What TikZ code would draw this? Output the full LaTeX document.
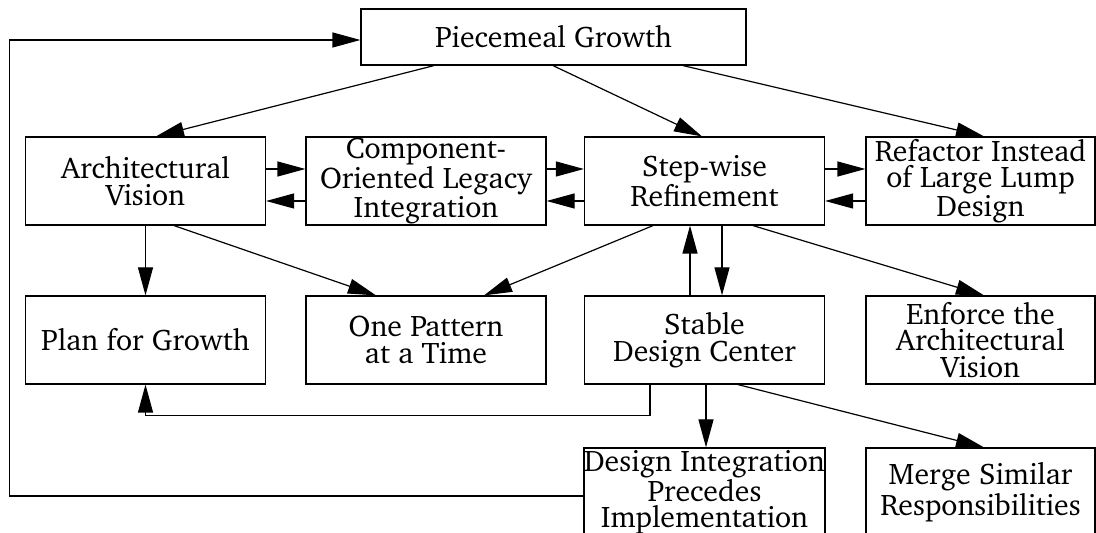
\documentclass[tikz,border=0pt]{standalone}
\usepackage[T1]{fontenc}
\usepackage{charter}
\usetikzlibrary{arrows.meta,calc}
\begin{document}
\begin{tikzpicture}[x=0.5pt,y=-0.5pt,
  box/.style={draw,line width=0.6pt,rectangle,minimum width=120pt,minimum height=44pt,inner sep=0pt,align=center,
     font=\fontsize{14.9pt}{13.2pt}\selectfont},
  narrowbox/.style={box,minimum width=114.5pt},
  arr/.style={line width=0.6pt,-{Triangle[length=14pt,width=7.5pt]}},
  ln/.style={line width=0.6pt}]
\useasboundingbox (0,0) rectangle (1096,533);
\node[box,minimum width=192.5pt,minimum height=28pt] (pg) at (553.5,37) {Piecemeal Growth};
\node[box] (av) at (145.5,181) {Architectural\\Vision};
\node[box] (co) at (426,181) {Component-\\Oriented Legacy\\Integration};
\node[box] (sw) at (704.5,181) {Step-wise\\Refinement};
\node[narrowbox] (rf) at (980.5,181) {Refactor Instead\\of Large Lump\\Design};
\node[box] (pf) at (145.5,340) {Plan for Growth};
\node[box] (op) at (426,340) {One Pattern\\at a Time};
\node[box] (sd) at (704.5,340) {Stable\\Design Center};
\node[narrowbox] (en) at (980.5,340) {Enforce the\\Architectural\\Vision};
\node[box] (di) at (704.5,492) {Design Integration\\Precedes\\Implementation};
\node[narrowbox] (ms) at (980.5,492) {Merge Similar\\Responsibilities};
\coordinate (lp) at (9.5,496);
% from Piecemeal Growth
\draw[arr] ($(pg.south)+(-119.5,0)$) -- ($(av.north)+(10.5,0)$);
\draw[arr] ($(pg.south)+(-0.5,0)$) -- ($(sw.north)+(-2.5,0)$);
\draw[arr] ($(pg.south)+(129.5,0)$) -- ($(rf.north)+(3.5,0)$);
% horizontal pairs
\draw[arr] ($(av.east)+(0,-12)$) -- ($(co.west)+(0,-12)$);
\draw[arr] ($(co.west)+(0,20)$) -- ($(av.east)+(0,20)$);
\draw[arr] ($(co.east)+(0,-12)$) -- ($(sw.west)+(0,-12)$);
\draw[arr] ($(sw.west)+(0,20)$) -- ($(co.east)+(0,20)$);
\draw[arr] ($(sw.east)+(0,-12)$) -- ($(rf.west)+(0,-12)$);
\draw[arr] ($(rf.west)+(0,20)$) -- ($(sw.east)+(0,20)$);
% row 2 to row 3
\draw[arr] (av.south) -- (pf.north);
\draw[arr] ($(av.south)+(28.5,0)$) -- ($(op.north)+(-50,0)$);
\draw[arr] ($(sw.south)+(-51.5,0)$) -- ($(op.north)+(58,0)$);
\draw[arr] ($(sd.north)+(-14.5,0)$) -- ($(sw.south)+(-14.5,0)$);
\draw[arr] ($(sw.south)+(17.5,0)$) -- ($(sd.north)+(17.5,0)$);
\draw[arr] ($(sw.south)+(48.5,0)$) -- ($(en.north)+(3.5,0)$);
% from Stable Design Center
\draw[arr] ($(sd.south)+(-54.5,0)$) -- ++(0,31) -| (pf.south);
\draw[arr] ($(sd.south)+(1.5,0)$) -- ($(di.north)+(1.5,0)$);
\draw[arr] ($(sd.south)+(33.5,0)$) -- ($(ms.north)+(3.5,0)$);
% feedback loop
\draw[arr] ($(di.west)+(0,4)$) -- (lp) |- ($(pg.west)+(0,3)$);
\end{tikzpicture}
\end{document}
